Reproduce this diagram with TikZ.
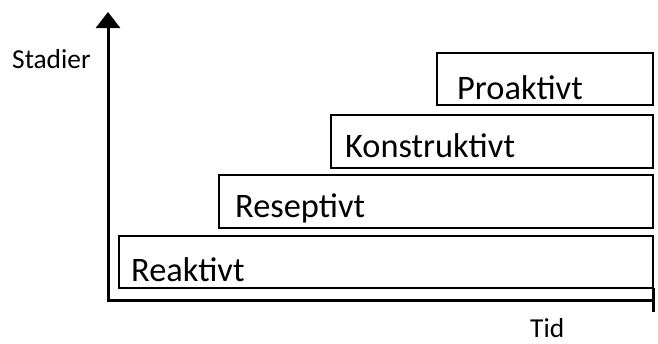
\documentclass[tikz,border=0pt]{standalone}
\usepackage{fontspec}
\setmainfont{Carlito}
\usetikzlibrary{arrows.meta}
\begin{document}
\begin{tikzpicture}[x=1bp,y=-1bp,
  stagebox/.style={draw, line width=2.8bp, anchor=north west, inner sep=0pt, outer sep=0pt},
  stagetext/.style={anchor=base west, inner sep=0pt, font=\fontsize{34.5}{40}\selectfont},
  axistext/.style={anchor=base west, inner sep=0pt, font=\fontsize{27.5}{32}\selectfont},
  axisline/.style={line width=3bp, line join=miter}]
\useasboundingbox (0,0) rectangle (658,343);

% stage boxes, stepping up to the right
\node[stagebox, minimum width=534bp, minimum height=52bp] (reaktivbox) at (119,236) {};
\node[stagebox, minimum width=434bp, minimum height=53bp] (reseptivbox) at (219,175) {};
\node[stagebox, minimum width=322bp, minimum height=53bp] (konstruktivbox) at (331,115) {};
\node[stagebox, minimum width=216bp, minimum height=52bp] (proaktivbox) at (437,53) {};

% stage labels
\node[stagetext] (reaktiv) at (131,281) {Reaktivt};
\node[stagetext] (reseptiv) at (235,217.5) {Reseptivt};
\node[stagetext] (konstruktiv) at (345,157) {Konstruktivt};
\node[stagetext] (proaktiv) at (457,99.5) {Proaktivt};

% axes
\coordinate (ytop) at (108,12);
\coordinate (origin) at (108,300);
\coordinate (xend) at (655,300);
\draw[axisline, {Triangle[length=16bp,width=24bp]}-{Bar[width=24bp]}] (ytop) -- (origin) -- (xend);

% axis labels
\node[axistext] (stadier) at (12,68) {Stadier};
\node[axistext] (tid) at (530,337.5) {Tid};
\end{tikzpicture}
\end{document}
